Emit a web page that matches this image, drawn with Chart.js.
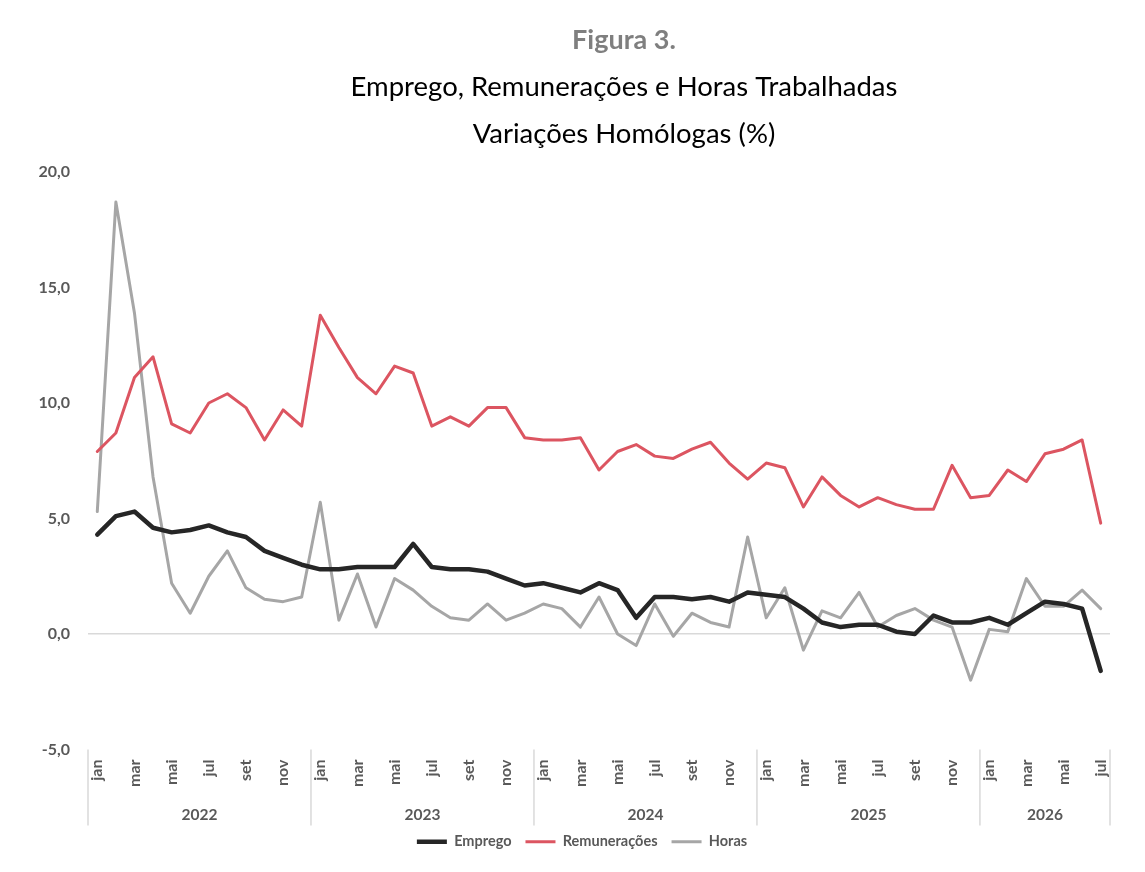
<!DOCTYPE html>
<html lang="pt">
<head>
<meta charset="utf-8">
<script src="https://cdn.jsdelivr.net/npm/chart.js@4/dist/chart.umd.min.js"></script>
<style>
  html, body { margin: 0; padding: 0; background: #fff; }
  #wrap { width: 1145px; height: 872px; position: relative; }
</style>
</head>
<body>
<div id="wrap"><canvas id="chartEmprego"></canvas></div>
<script>
const anos = ['2022', '2023', '2024', '2025', '2026'];
const nomesMeses = ['jan', 'fev', 'mar', 'abr', 'mai', 'jun', 'jul', 'ago', 'set', 'out', 'nov', 'dez'];
const mesesUltimoAno = 7; // até julho de 2026

const titulos = ['Figura 3.', 'Emprego, Remunerações e Horas Trabalhadas', 'Variações Homólogas (%)'];

const emprego = [
  4.3, 5.1, 5.3, 4.6, 4.4, 4.5, 4.7, 4.4, 4.2, 3.6, 3.3, 3.0,
  2.8, 2.8, 2.9, 2.9, 2.9, 3.9, 2.9, 2.8, 2.8, 2.7, 2.4, 2.1,
  2.2, 2.0, 1.8, 2.2, 1.9, 0.7, 1.6, 1.6, 1.5, 1.6, 1.4, 1.8,
  1.7, 1.6, 1.1, 0.5, 0.3, 0.4, 0.4, 0.1, 0.0, 0.8, 0.5, 0.5,
  0.7, 0.4, 0.9, 1.4, 1.3, 1.1, -1.6
];
const remuneracoes = [
  7.9, 8.7, 11.1, 12.0, 9.1, 8.7, 10.0, 10.4, 9.8, 8.4, 9.7, 9.0,
  13.8, 12.4, 11.1, 10.4, 11.6, 11.3, 9.0, 9.4, 9.0, 9.8, 9.8, 8.5,
  8.4, 8.4, 8.5, 7.1, 7.9, 8.2, 7.7, 7.6, 8.0, 8.3, 7.4, 6.7,
  7.4, 7.2, 5.5, 6.8, 6.0, 5.5, 5.9, 5.6, 5.4, 5.4, 7.3, 5.9,
  6.0, 7.1, 6.6, 7.8, 8.0, 8.4, 4.8
];
const horas = [
  5.3, 18.7, 13.9, 6.8, 2.2, 0.9, 2.5, 3.6, 2.0, 1.5, 1.4, 1.6,
  5.7, 0.6, 2.6, 0.3, 2.4, 1.9, 1.2, 0.7, 0.6, 1.3, 0.6, 0.9,
  1.3, 1.1, 0.3, 1.6, 0.0, -0.5, 1.3, -0.1, 0.9, 0.5, 0.3, 4.2,
  0.7, 2.0, -0.7, 1.0, 0.7, 1.8, 0.3, 0.8, 1.1, 0.6, 0.3, -2.0,
  0.2, 0.1, 2.4, 1.2, 1.2, 1.9, 1.1
];

// rótulos mensais e ano de cada mês
const meses = [];
const anoDoMes = [];
anos.forEach((ano, k) => {
  const n = k === anos.length - 1 ? mesesUltimoAno : 12;
  for (let m = 0; m < n; m++) {
    meses.push(nomesMeses[m]);
    anoDoMes.push(ano);
  }
});

const cinzaTexto = '#595959';
const fonte = 'Lato, "Open Sans", sans-serif';

// títulos, separadores e anos por baixo do eixo
const anosPlugin = {
  id: 'anosPlugin',
  afterLayout(chart) {
    // legenda um pouco à direita, como no original
    if (chart.legend) {
      chart.legend.left += 27;
      chart.legend.right += 27;
    }
  },
  afterDraw(chart) {
    const { ctx, chartArea } = chart;
    const x = chart.scales.x;
    const passo = x.getPixelForValue(1) - x.getPixelForValue(0);
    ctx.save();

    ctx.textAlign = 'center';
    ctx.textBaseline = 'middle';
    ctx.fillStyle = '#7f7f7f';
    ctx.font = 'bold 27px ' + fonte;
    ctx.fillText(titulos[0], 624, 40);
    ctx.fillStyle = '#000';
    ctx.font = '27.5px ' + fonte;
    ctx.fillText(titulos[1], 624, 87);
    ctx.fillText(titulos[2], 624, 134);

    ctx.strokeStyle = '#d9d9d9';
    ctx.lineWidth = 1.5;
    const topo = chartArea.bottom;
    const fundo = chartArea.bottom + 76;
    const limites = [];
    anoDoMes.forEach((ano, i) => {
      if (i === 0 || ano !== anoDoMes[i - 1]) limites.push(x.getPixelForValue(i) - passo / 2);
    });
    limites.push(x.getPixelForValue(meses.length - 1) + passo / 2);
    limites.forEach(px => {
      ctx.beginPath();
      ctx.moveTo(px, topo);
      ctx.lineTo(px, fundo);
      ctx.stroke();
    });

    ctx.fillStyle = cinzaTexto;
    ctx.font = 'bold 15.5px ' + fonte;
    anos.forEach((ano, k) => {
      ctx.fillText(ano, (limites[k] + limites[k + 1]) / 2, chartArea.bottom + 65);
    });
    ctx.restore();
  }
};

const ctx = document.getElementById('chartEmprego');
new Chart(ctx, {
  type: 'line',
  data: {
    labels: meses,
    datasets: [
      {
        label: 'Emprego',
        data: emprego,
        borderColor: '#262626',
        backgroundColor: '#262626',
        borderWidth: 4.5,
        borderCapStyle: 'round'
      },
      {
        label: 'Remunerações',
        data: remuneracoes,
        borderColor: '#dc5561',
        backgroundColor: '#dc5561',
        borderWidth: 3,
        borderCapStyle: 'round'
      },
      {
        label: 'Horas',
        data: horas,
        borderColor: '#a6a6a6',
        backgroundColor: '#a6a6a6',
        borderWidth: 3,
        borderCapStyle: 'round'
      }
    ]
  },
  options: {
    responsive: true,
    maintainAspectRatio: false,
    animation: false,
    devicePixelRatio: 1,
    elements: {
      point: { radius: 0, hoverRadius: 0 },
      line: { tension: 0, borderJoinStyle: 'round' }
    },
    layout: { padding: { top: 172, right: 35, bottom: 13, left: 0 } },
    scales: {
      x: {
        offset: true,
        grid: { display: false, drawTicks: false },
        border: { display: false },
        afterFit: scale => { scale.height = 71; },
        ticks: {
          autoSkip: false,
          minRotation: 90,
          maxRotation: 90,
          padding: 10,
          color: cinzaTexto,
          font: { family: fonte, size: 16, weight: 'bold' },
          callback: function(value, index) {
            return index % 2 === 0 ? this.getLabelForValue(value) : '';
          }
        }
      },
      y: {
        min: -5,
        max: 20,
        afterFit: scale => { scale.width = 88; },
        border: { display: false },
        grid: {
          drawTicks: false,
          lineWidth: 1.5,
          color: c => (c.tick && c.tick.value === 0 ? '#d9d9d9' : 'transparent')
        },
        ticks: {
          stepSize: 5,
          padding: 18,
          color: cinzaTexto,
          font: { family: fonte, size: 16, weight: 'bold' },
          callback: v => v.toFixed(1).replace('.', ',')
        }
      }
    },
    plugins: {
      tooltip: { enabled: false },
      legend: {
        position: 'bottom',
        labels: {
          usePointStyle: true,
          pointStyle: 'line',
          pointStyleWidth: 30,
          padding: 14,
          color: cinzaTexto,
          font: { family: fonte, size: 14.5, weight: 'bold' }
        }
      }
    }
  },
  plugins: [anosPlugin]
});
</script>
</body>
</html>
